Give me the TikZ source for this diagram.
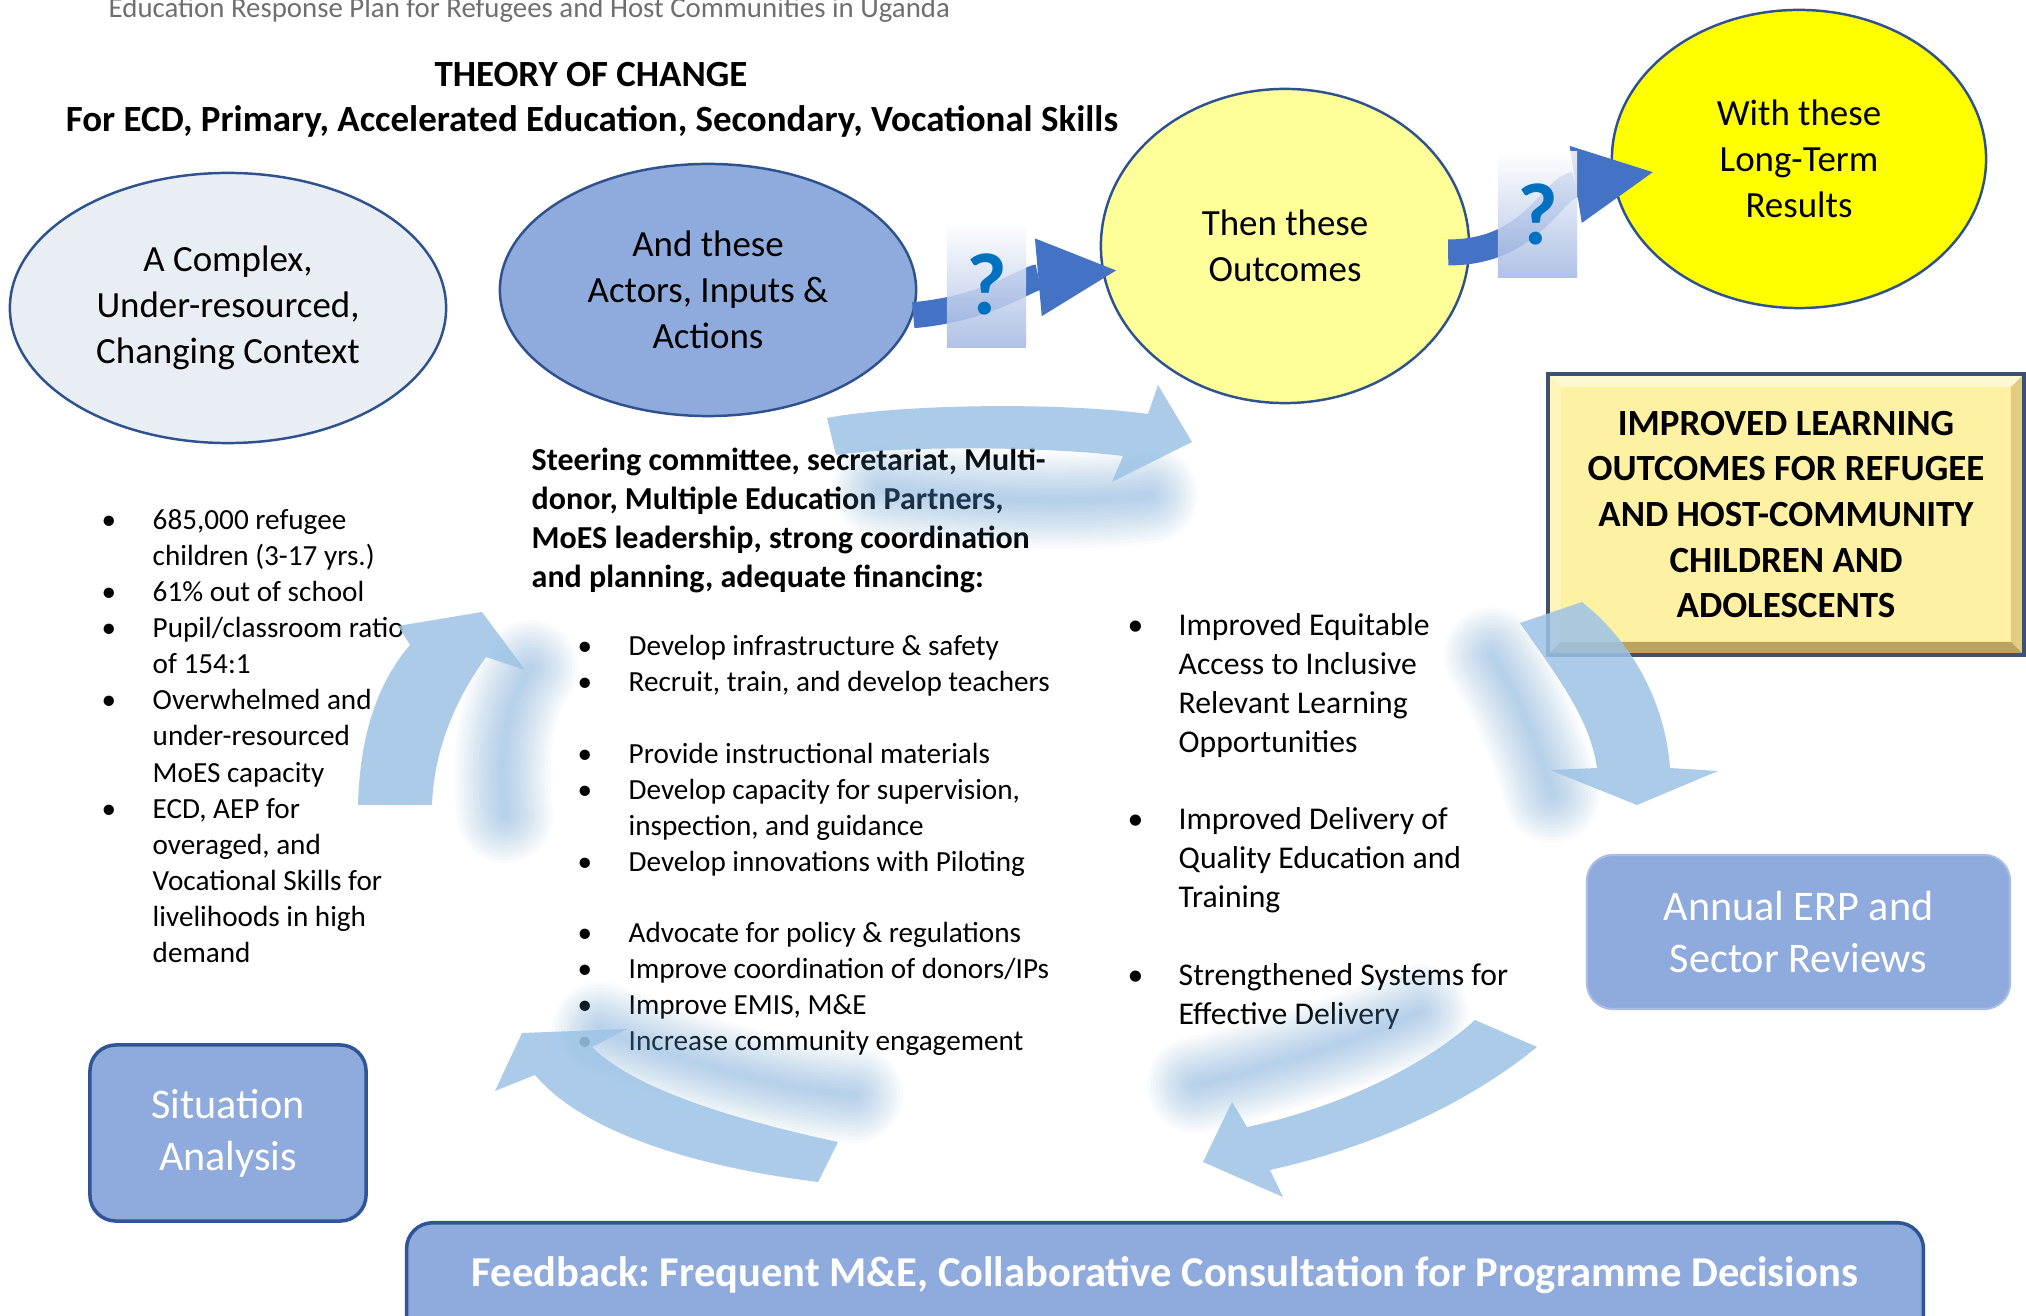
\documentclass[tikz,border=0pt]{standalone}
\usepackage{fontspec}
\setmainfont{Carlito}
\usepackage{tikz}
\usetikzlibrary{arrows.meta,shapes.geometric,positioning,calc}

\definecolor{ellline}{HTML}{2F528F}
\definecolor{ctxfill}{HTML}{E9EDF4}
\definecolor{actfill}{HTML}{8FAADC}
\definecolor{ocfill}{HTML}{FFFF99}
\definecolor{resfill}{HTML}{FFFF00}
\definecolor{linkblue}{HTML}{4472C4}
\definecolor{qmark}{HTML}{0070C0}
\definecolor{qshade}{HTML}{A3B8E2}
\definecolor{boxblue}{HTML}{8FAADC}
\definecolor{sitline}{HTML}{2F5597}
\definecolor{revline}{HTML}{A9BCE3}
\definecolor{goalfill}{HTML}{FFF1A3}
\definecolor{goalline}{HTML}{3F5170}
\definecolor{bevlight}{HTML}{FFF9D2}
\definecolor{bevside}{HTML}{FFF4BA}
\definecolor{bevright}{HTML}{E2CC84}
\definecolor{bevdark}{HTML}{BBA35E}
\definecolor{cycblue}{HTML}{9DC3E6}
\definecolor{cycshadow}{HTML}{5B9BD5}
\definecolor{hdrgray}{HTML}{6F6F6F}

\newlength{\bulind}\setlength{\bulind}{0.47cm}
\newcommand{\bitem}{\makebox[\bulind][l]{\hspace*{-0.04cm}\textbullet}}
\newcommand{\bcont}{\hspace*{\bulind}}

% cycle arrows (pixel coordinates)
\def\arrowA{(827,-418) .. controls (900,-404) and (1060,-402) .. (1148,-414) -- (1158,-385) -- (1192,-442) -- (1112,-482) -- (1123,-456) .. controls (1040,-446) and (900,-446) .. (836,-455) -- cycle}
\def\arrowB{(358,-805) .. controls (360,-730) and (380,-680) .. (410,-645) -- (398,-626) -- (482,-612) -- (525,-670) -- (486,-657) .. controls (455,-700) and (434,-750) .. (432,-805) -- cycle}
\def\arrowC{(838,-1142) .. controls (760,-1125) and (640,-1095) .. (592,-1047) -- (627,-1029) -- (522,-1033) -- (495,-1091) -- (535,-1075) .. controls (590,-1140) and (720,-1170) .. (818,-1182) -- cycle}
\def\arrowD{(1520,-623) .. controls (1560,-680) and (1590,-720) .. (1597,-768) -- (1550,-770) -- (1637,-805) -- (1718,-771) -- (1670,-768) .. controls (1665,-700) and (1630,-640) .. (1582,-602) -- cycle}
\def\arrowE{(1475,-1020) .. controls (1420,-1070) and (1330,-1110) .. (1247,-1127) -- (1232,-1102) -- (1203,-1162) -- (1283,-1197) -- (1270,-1170) .. controls (1360,-1150) and (1460,-1110) .. (1537,-1047) -- cycle}

\tikzset{
  bubble/.style={ellipse, draw=ellline, line width=0.7pt, inner sep=0pt, align=center,
    font=\fontsize{10.5}{13.1}\selectfont},
  roundbox/.style={rectangle, rounded corners=0.26cm, fill=boxblue, text=white, align=center,
    inner sep=0pt, font=\fontsize{12}{14.7}\selectfont},
  goalbox/.style={rectangle, fill=goalfill, inner sep=0pt, align=center,
    minimum width=4.74cm, minimum height=2.79cm, font=\fontsize{10.5}{13}\selectfont\bfseries},
  qbox/.style={rectangle, inner sep=0pt, minimum width=0.79cm, minimum height=1.25cm,
    top color=white, bottom color=qshade, fill opacity=0.85, text opacity=1, text=qmark,
    font=\fontsize{25}{25}\selectfont\bfseries},
  darrow/.style={draw=linkblue, line width=0.26cm,
    -{Triangle[width=0.78cm,length=0.78cm,line width=0pt]}},
  blist/.style={anchor=north west, inner sep=0pt, align=left, font=\fontsize{8.3}{10.2}\selectfont},
  cyclearrow/.style={fill=cycblue, fill opacity=0.85},
  cycleshadow/.style={draw=cycshadow, draw opacity=0.03, line cap=round},
}

\begin{document}
\frenchspacing
\begin{tikzpicture}[x=0.01cm, y=0.01cm]
  \fill[white] (0,0) rectangle (2026,-1316);
  \useasboundingbox (0,0) rectangle (2026,-1316);

  % titles
  \node[anchor=base west, inner sep=0pt, font=\fontsize{8.2}{10}\selectfont, text=hdrgray] (hdr) at (108,-18)
    {Education Response Plan for Refugees and Host Communities in Uganda};
  \node[anchor=base, inner sep=0pt, font=\fontsize{10.5}{12.8}\selectfont\bfseries] (title) at (591,-87)
    {THEORY OF CHANGE};
  \node[anchor=base, inner sep=0pt, font=\fontsize{10.5}{12.8}\selectfont\bfseries] (subtitle) at (592,-132)
    {For ECD, Primary, Accelerated Education, Secondary, Vocational Skills};

  % the four stages
  \node[bubble, fill=ctxfill, minimum width=4.36cm, minimum height=2.70cm] (ctx) at (228,-308)
    {A Complex,\\Under-resourced,\\Changing Context};
  \node[bubble, fill=actfill, minimum width=4.16cm, minimum height=2.52cm] (act) at (708,-290)
    {And these\\Actors, Inputs \&\\Actions};
  \node[bubble, fill=ocfill, minimum width=3.68cm, minimum height=3.14cm] (oc) at (1285,-246)
    {Then these\\Outcomes};
  \node[bubble, fill=resfill, minimum width=3.74cm, minimum height=2.98cm] (res) at (1799,-159)
    {With these\\Long-Term\\Results};

  \draw[darrow, shorten >=-0.14cm] (act.-7) to[out=5, in=185] (oc.-172);
  \draw[darrow, shorten <=-0.22cm, shorten >=-0.41cm] (oc.-2) to[out=0, in=189] (res.-174);
  \node[qbox] (q1) at (986.5,-284.5) {?};
  \node[qbox] (q2) at (1537.5,-214.5) {?};

  % goal, reviews, analysis, feedback
  \node[goalbox] (goal) at (1786,-514.5)
    {IMPROVED LEARNING\\OUTCOMES FOR REFUGEE\\AND HOST-COMMUNITY\\CHILDREN AND\\ADOLESCENTS};
  \fill[bevlight] (goal.north west) -- (goal.north east) -- ($(goal.north east)+(-13,-13)$) -- ($(goal.north west)+(13,-13)$) -- cycle;
  \fill[bevside] (goal.north west) -- ($(goal.north west)+(13,-13)$) -- ($(goal.south west)+(13,13)$) -- (goal.south west) -- cycle;
  \fill[bevright] (goal.north east) -- ($(goal.north east)+(-13,-13)$) -- ($(goal.south east)+(-13,13)$) -- (goal.south east) -- cycle;
  \fill[bevdark] (goal.south west) -- ($(goal.south west)+(13,13)$) -- ($(goal.south east)+(-13,13)$) -- (goal.south east) -- cycle;
  \draw[goalline, line width=1pt] (goal.north west) rectangle (goal.south east);

  \node[roundbox, draw=revline, line width=0.6pt, minimum width=4.23cm, minimum height=1.54cm] (rev) at (1798.5,-932)
    {Annual ERP and\\Sector Reviews};
  \node[roundbox, draw=sitline, line width=1pt, minimum width=2.76cm, minimum height=1.76cm] (sit) at (228,-1133)
    {Situation\\Analysis};
  \node[roundbox, draw=sitline, line width=1pt, anchor=north, minimum width=15.16cm,
    text height=0.64cm, text depth=0.66cm, font=\fontsize{12.1}{14.7}\selectfont\bfseries] (fb) at (1165,-1221)
    {Feedback: Frequent M\&E, Collaborative Consultation for Programme Decisions};

  % lists
  \node[blist, font=\fontsize{8.3}{10.25}\selectfont] (ctxlist) at (105,-509)
    {\bitem 685,000 refugee\\
     \bcont children (3-17 yrs.)\\
     \bitem 61\% out of school\\
     \bitem Pupil/classroom ratio\\
     \bcont of 154:1\\
     \bitem Overwhelmed and\\
     \bcont under-resourced\\
     \bcont MoES capacity\\
     \bitem ECD, AEP for\\
     \bcont overaged, and\\
     \bcont Vocational Skills for\\
     \bcont livelihoods in high\\
     \bcont demand};
  \node[blist, font=\fontsize{9.1}{11.1}\selectfont\bfseries] (stc) at (531,-447)
    {Steering committee, secretariat, Multi-\\
     donor, Multiple Education Partners,\\
     MoES leadership, strong coordination\\
     and planning, adequate financing:};
  \node[blist] (actlist) at (581,-635)
    {\bitem Develop infrastructure \& safety\\
     \bitem Recruit, train, and develop teachers\\[10.2pt]
     \bitem Provide instructional materials\\
     \bitem Develop capacity for supervision,\\
     \bcont inspection, and guidance\\
     \bitem Develop innovations with Piloting\\[10.2pt]
     \bitem Advocate for policy \& regulations\\
     \bitem Improve coordination of donors/IPs\\
     \bitem Improve EMIS, M\&E\\
     \bitem Increase community engagement};
  \node[blist, font=\fontsize{9}{11.05}\selectfont] (oclist) at (1131,-613)
    {\bitem Improved Equitable\\
     \bcont Access to Inclusive\\
     \bcont Relevant Learning\\
     \bcont Opportunities\\[11.05pt]
     \bitem Improved Delivery of\\
     \bcont Quality Education and\\
     \bcont Training\\[11.05pt]
     \bitem Strengthened Systems for\\
     \bcont Effective Delivery};

  % cycle arrows with soft shadows
  \foreach \w in {0.06,0.12,...,0.96}
    \draw[cycleshadow, line width=\w cm] (880,-488) .. controls (960,-500) and (1080,-505) .. (1150,-495);
  \fill[cyclearrow] \arrowA;
  \foreach \w in {0.06,0.12,...,0.96}
    \draw[cycleshadow, line width=\w cm] (505,-815) .. controls (498,-760) and (505,-705) .. (530,-668);
  \fill[cyclearrow] \arrowB;
  \foreach \w in {0.06,0.12,...,0.96}
    \draw[cycleshadow, line width=\w cm] (600,-1030) .. controls (680,-1060) and (780,-1090) .. (855,-1095);
  \fill[cyclearrow] \arrowC;
  \foreach \w in {0.06,0.12,...,0.96}
    \draw[cycleshadow, line width=\w cm] (1492,-655) .. controls (1520,-700) and (1540,-750) .. (1552,-795);
  \fill[cyclearrow] \arrowD;
  \foreach \w in {0.06,0.12,...,0.96}
    \draw[cycleshadow, line width=\w cm] (1195,-1085) .. controls (1260,-1070) and (1360,-1040) .. (1420,-1012);
  \fill[cyclearrow] \arrowE;
\end{tikzpicture}
\end{document}
